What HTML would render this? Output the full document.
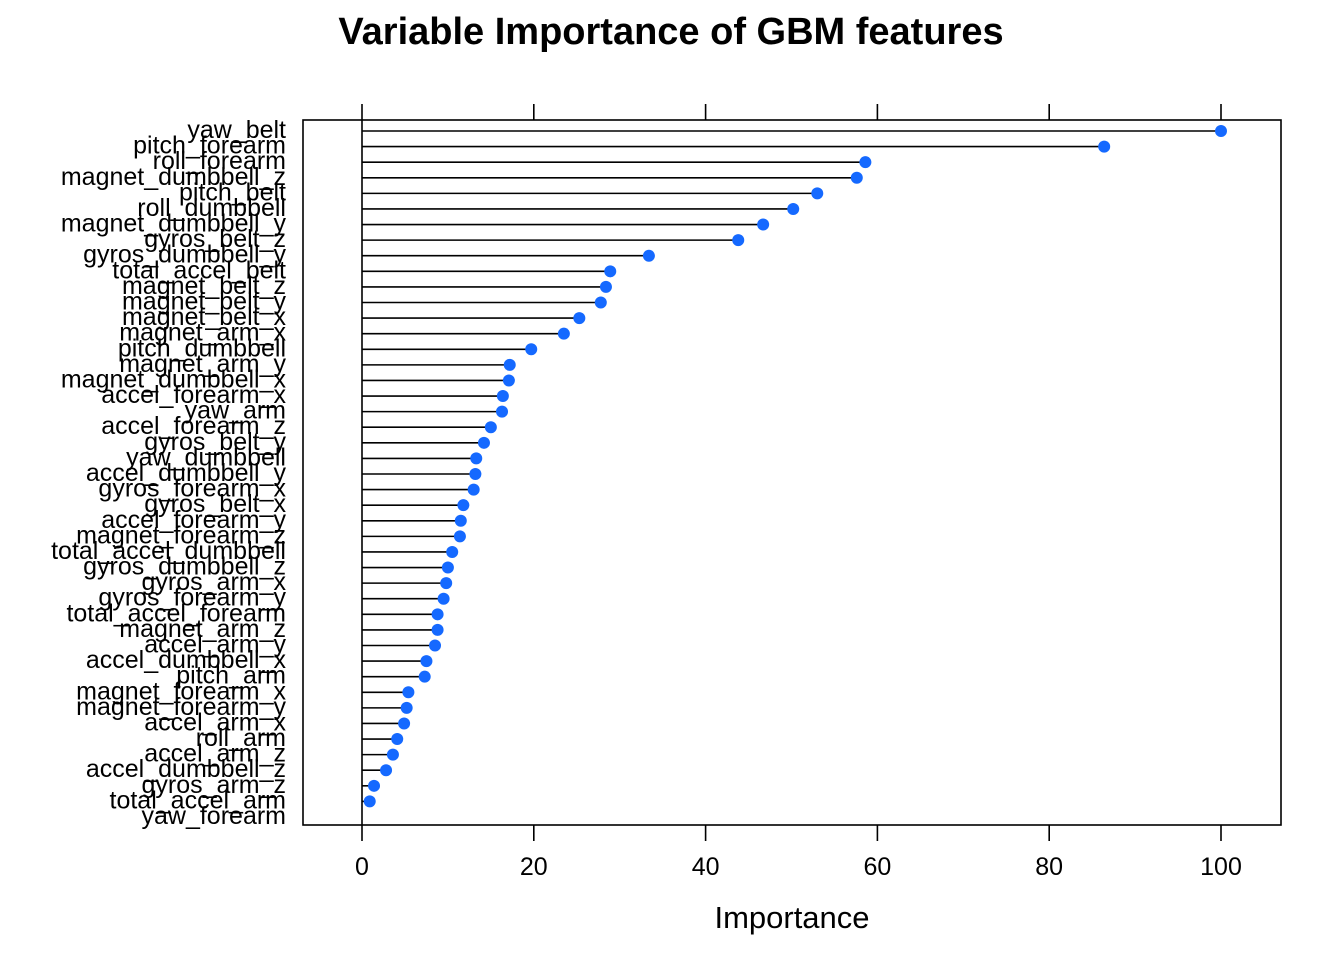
<!DOCTYPE html>
<html><head><meta charset="utf-8"><style>body{margin:0;background:#fff}svg{display:block}text{font-family:"Liberation Sans",Arial,sans-serif}</style></head>
<body>
<svg id="chart" width="1344" height="960" viewBox="0 0 1344 960"></svg>
<script>
const categories=["yaw_belt","pitch_forearm","roll_forearm","magnet_dumbbell_z","pitch_belt","roll_dumbbell","magnet_dumbbell_y","gyros_belt_z","gyros_dumbbell_y","total_accel_belt","magnet_belt_z","magnet_belt_y","magnet_belt_x","magnet_arm_x","pitch_dumbbell","magnet_arm_y","magnet_dumbbell_x","accel_forearm_x","yaw_arm","accel_forearm_z","gyros_belt_y","yaw_dumbbell","accel_dumbbell_y","gyros_forearm_x","gyros_belt_x","accel_forearm_y","magnet_forearm_z","total_accel_dumbbell","gyros_dumbbell_z","gyros_arm_x","gyros_forearm_y","total_accel_forearm","magnet_arm_z","accel_arm_y","accel_dumbbell_x","pitch_arm","magnet_forearm_x","magnet_forearm_y","accel_arm_x","roll_arm","accel_arm_z","accel_dumbbell_z","gyros_arm_z","total_accel_arm","yaw_forearm"];
const values=[100,86.4,58.6,57.6,53.0,50.2,46.7,43.8,33.4,28.9,28.4,27.8,25.3,23.5,19.7,17.2,17.1,16.4,16.3,15.0,14.2,13.3,13.2,13.0,11.8,11.5,11.4,10.5,10.0,9.8,9.5,8.8,8.8,8.5,7.5,7.3,5.4,5.2,4.9,4.1,3.6,2.8,1.4,0.9,0];
const xTicks=[0,20,40,60,80,100];
const svg=document.getElementById('chart');
const NS='http://www.w3.org/2000/svg';
function mk(t,a,p){const e=document.createElementNS(NS,t);for(const k in a)e.setAttribute(k,a[k]);(p||svg).appendChild(e);return e;}
const X=v=>362+v*8.59;
const Y=i=>131+i*(817-131)/(categories.length-1);
const L=303,R=1281,T=120,B=825;
let t=mk('text',{x:671,y:44,'text-anchor':'middle','font-size':38,'font-weight':'bold'});


t.textContent='Variable Importance of GBM features';
let box=mk('rect',{x:L,y:T,width:R-L,height:B-T,fill:'none',stroke:'#000','stroke-width':1.6});


xTicks.forEach(v=>{
  let a=mk('line',{x1:X(v),x2:X(v),y1:104,y2:T,stroke:'#000','stroke-width':1.6});
  
  
  let b=mk('line',{x1:X(v),x2:X(v),y1:B,y2:841,stroke:'#000','stroke-width':1.6});
  
  
  let l=mk('text',{x:X(v),y:875,'text-anchor':'middle','font-size':25});
  
  
  l.textContent=v;
});
let xt=mk('text',{x:792,y:928,'text-anchor':'middle','font-size':31});


xt.textContent='Importance';
let vl=mk('line',{x1:X(0),x2:X(0),y1:T,y2:B,stroke:'#000','stroke-width':1.6});


categories.forEach((c,i)=>{
  let lab=mk('text',{x:286,y:Y(i)+7,'text-anchor':'end','font-size':25});
  
  
  lab.textContent=c;
  let s=mk('line',{x1:X(0),x2:X(values[i]),y1:Y(i),y2:Y(i),stroke:'#000','stroke-width':1.6});
  
  
  if(values[i]>0){
    let d=mk('circle',{cx:X(values[i]),cy:Y(i),r:6,fill:'#1569FF'});
    
    
  }
});
</script>
</body></html>
